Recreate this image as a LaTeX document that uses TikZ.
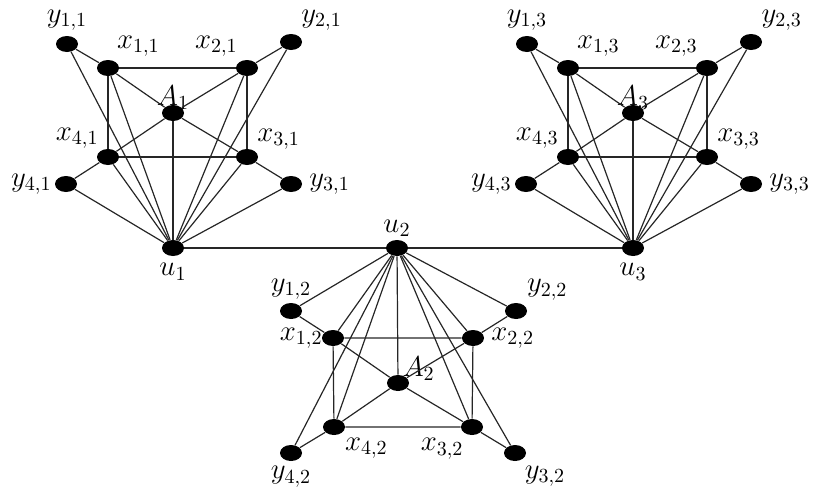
\documentclass[tikz,border=0pt]{standalone}
\usetikzlibrary{shapes.geometric}

\begin{document}
\begin{tikzpicture}[x=0.5pt, y=-0.5pt,
    vtx/.style={ellipse, fill=black, minimum width=11pt, minimum height=8pt, inner sep=0pt},
    edge/.style={black!85, line width=0.6pt},
    every label/.style={font=\Large}]
  \useasboundingbox (0,0) rectangle (813,493);
  % the two upright copies
  \foreach \c/\dx in {1/0,3/460} {
    \begin{scope}[shift={(\dx,0)}]
      \node[vtx, label={[label distance=-1pt]above:$y_{1,\c}$}] (y1-\c) at (67,44) {};
      \node[vtx, label={[label distance=-2pt]65:$x_{1,\c}$}] (x1-\c) at (108,68) {};
      \node[vtx, label={[label distance=-2pt]118:$x_{2,\c}$}] (x2-\c) at (247,68) {};
      \node[vtx, label={[label distance=-2pt]50:$y_{2,\c}$}] (y2-\c) at (291,42) {};
      \node[vtx, label={[label distance=-6pt]above:$A_{\c}$}] (A-\c) at (173,113) {};
      \node[vtx, label={[label distance=-4pt]155:$x_{4,\c}$}] (x4-\c) at (108,157) {};
      \node[vtx, label={[label distance=-4pt]10:$x_{3,\c}$}] (x3-\c) at (247,157) {};
      \node[vtx, label={[label distance=-2pt]left:$y_{4,\c}$}] (y4-\c) at (66,184) {};
      \node[vtx, label=right:$y_{3,\c}$] (y3-\c) at (291,184) {};
      \node[vtx, label=below:$u_{\c}$] (u-\c) at (173,248) {};
    \end{scope}
  }
  % the copy turned upside down
  \node[vtx, label={[label distance=-2pt]above:$u_2$}] (u-2) at (397,248) {};
  \node[vtx, label={[label distance=-2pt]above:$y_{1,2}$}] (y1-2) at (291,311) {};
  \node[vtx, label={[label distance=-4pt]left:$x_{1,2}$}] (x1-2) at (333,338) {};
  \node[vtx, label=right:$x_{2,2}$] (x2-2) at (473,338) {};
  \node[vtx, label={[label distance=-2pt]45:$y_{2,2}$}] (y2-2) at (516,311) {};
  \node[vtx, label={[label distance=-7pt]60:$A_2$}] (A-2) at (398,383) {};
  \node[vtx, label={[label distance=-2pt]-45:$x_{4,2}$}] (x4-2) at (334,427) {};
  \node[vtx, label={[label distance=-2pt]-110:$x_{3,2}$}] (x3-2) at (472,427) {};
  \node[vtx, label={[label distance=-1pt]below:$y_{4,2}$}] (y4-2) at (291,453) {};
  \node[vtx, label={[label distance=-1pt]-65:$y_{3,2}$}] (y3-2) at (515,453) {};
  % edges
  \foreach \c in {1,2,3} {
    \foreach \i in {1,...,4} {
      \draw[edge] (u-\c) -- (x\i-\c);
      \draw[edge] (u-\c) -- (y\i-\c);
      \draw[edge] (A-\c) -- (x\i-\c);
      \draw[edge] (y\i-\c) -- (x\i-\c);
    }
    \draw[edge] (u-\c) -- (A-\c);
    \draw[edge] (x1-\c) -- (x2-\c) -- (x3-\c) -- (x4-\c) -- (x1-\c);
  }
  \draw[edge] (u-1) -- (u-2) -- (u-3);
\end{tikzpicture}
\end{document}
